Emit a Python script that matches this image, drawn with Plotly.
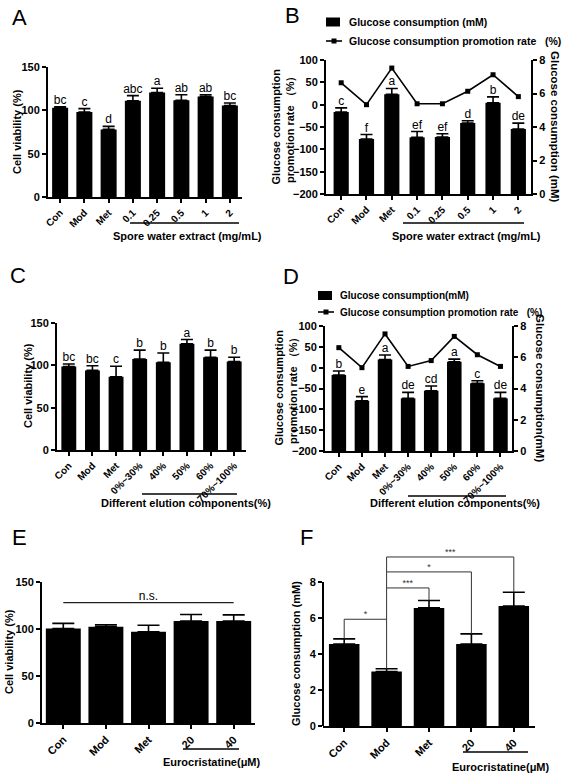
import plotly.graph_objects as go

W, H = 567, 775
FONT = "Arial, 'Liberation Sans', sans-serif"

# ---------------- data ----------------
# Panel A – cell viability, spore water extract
cats_ab = ["Con", "Mod", "Met", "0.1", "0.25", "0.5", "1", "2"]
viab_a = [103, 98, 78, 111, 120.5, 111.5, 116, 105.5]
viab_a_err = [1, 4, 3.5, 6, 5, 6.5, 2, 3]
viab_a_sig = ["bc", "c", "d", "abc", "a", "ab", "ab", "bc"]

# Panel B – glucose consumption (mM) and promotion rate (%)
gluc_b = [4.89, 3.28, 5.95, 3.38, 3.40, 4.24, 5.45, 3.88]
gluc_b_err = [0.25, 0.27, 0.35, 0.35, 0.20, 0.13, 0.35, 0.35]
gluc_b_sig = ["c", "f", "a", "ef", "ef", "d", "b", "de"]
rate_b = [49, 0, 82, 2, 2, 30, 67, 18]

# Panel C – cell viability, elution components
cats_cd = ["Con", "Mod", "Met", "0%~30%", "40%", "50%", "60%", "70%~100%"]
viab_c = [98.5, 94, 86.5, 107.5, 103.5, 125.5, 109.5, 104.5]
viab_c_err = [3, 5.5, 12.5, 10.5, 11, 5, 8.5, 5]
viab_c_sig = ["bc", "bc", "c", "b", "b", "a", "b", "b"]

# Panel D – glucose consumption (mM) and promotion rate (%)
gluc_d = [4.86, 3.22, 5.86, 3.37, 3.86, 5.71, 4.33, 3.37]
gluc_d_err = [0.26, 0.26, 0.28, 0.38, 0.30, 0.17, 0.17, 0.38]
gluc_d_sig = ["b", "e", "a", "de", "cd", "a", "c", "de"]
rate_d = [48, 0, 81, 3, 17, 75, 31, 3]

# Panel E – cell viability, eurocristatine
cats_ef = ["Con", "Mod", "Met", "20", "40"]
viab_e = [100.5, 102.5, 97, 108.5, 108.5]
viab_e_err = [5.5, 2, 7, 7, 6.5]
ns_level = 128

# Panel F – glucose consumption, eurocristatine
gluc_f = [4.55, 3.03, 6.56, 4.55, 6.67]
gluc_f_err = [0.29, 0.15, 0.41, 0.57, 0.76]
# comparisons against Mod (index 1): (other index, bracket level, label)
f_comparisons = [(0, 5.93, "*"), (2, 7.67, "***"), (3, 8.56, "*"), (4, 9.39, "***")]

# ---------------- layout helpers ----------------
boxes = {
    "A": dict(l=48, r=242, t=67, b=197, xr=[-0.5, 7.5]),
    "B": dict(l=326, r=531, t=60, b=194, xr=[-0.6, 7.5]),
    "C": dict(l=57, r=246, t=323, b=450, xr=[-0.5, 7.5]),
    "D": dict(l=325, r=512, t=326, b=451, xr=[-0.6, 7.5]),
    "E": dict(l=42, r=255, t=582, b=723, xr=[-0.5, 4.5]),
    "F": dict(l=323, r=535, t=546, b=726, xr=[-0.5, 4.5]),
}


def PX(x):
    return x / W


def PY(y):
    return 1 - y / H


def xaxis(box, cats, anchor, size=10):
    return dict(domain=[PX(box["l"]), PX(box["r"])], anchor=anchor, range=box["xr"],
                tickmode="array", tickvals=list(range(len(cats))), ticktext=cats,
                tickangle=-45, showline=True, linecolor="black", linewidth=2,
                ticks="outside", ticklen=4, tickwidth=2, tickcolor="black",
                showgrid=False, zeroline=False, automargin=False, fixedrange=True,
                tickfont=dict(family=FONT, size=size, color="black", weight="bold"))


def yaxis(box, anchor, rng, dtick, side="left", overlaying=None, showline=True, tickvals=None):
    d = dict(domain=[PY(box["b"]), PY(box["t"])], anchor=anchor, range=rng,
             side=side, showline=showline, linecolor="black", linewidth=2,
             ticks="outside", ticklen=4, tickwidth=2, tickcolor="black",
             showgrid=False, zeroline=False, automargin=False, fixedrange=True,
             tickfont=dict(family=FONT, size=11, color="black", weight="bold"))
    if tickvals is not None:
        d.update(tickmode="array", tickvals=tickvals)
    else:
        d.update(tick0=0, dtick=dtick)
    if overlaying:
        d["overlaying"] = overlaying
    return d


def err(arr, w):
    return dict(type="data", array=arr, arrayminus=[0] * len(arr), symmetric=False,
                color="black", thickness=1.6, width=w)


def tops(vals, errs):
    return [v + e for v, e in zip(vals, errs)]


LETTER_FONT = dict(family=FONT, size=12, color="#000000")

fig = go.Figure()

# ---------------- Panel A ----------------
ia = list(range(len(cats_ab)))
fig.add_trace(go.Bar(x=ia, y=viab_a, width=0.66, marker=dict(color="black", line=dict(width=0)),
                     error_y=err(viab_a_err, 6), xaxis="x", yaxis="y", showlegend=False))
fig.add_trace(go.Scatter(x=ia, y=tops(viab_a, viab_a_err), mode="text", text=viab_a_sig,
                         textposition="top center", textfont=LETTER_FONT,
                         cliponaxis=False, xaxis="x", yaxis="y", showlegend=False))

# ---------------- Panel B ----------------
fig.add_trace(go.Bar(x=ia, y=gluc_b, width=0.6, marker=dict(color="black", line=dict(width=0)),
                     error_y=err(gluc_b_err, 6), xaxis="x2", yaxis="y2", showlegend=False))
fig.add_trace(go.Scatter(x=ia, y=tops(gluc_b, gluc_b_err), mode="text", text=gluc_b_sig,
                         textposition="top center", textfont=LETTER_FONT,
                         cliponaxis=False, xaxis="x2", yaxis="y2", showlegend=False))
fig.add_trace(go.Scatter(x=ia, y=rate_b, mode="lines+markers",
                         line=dict(color="black", width=1.6),
                         marker=dict(symbol="square", size=5, color="black"),
                         xaxis="x2", yaxis="y3", showlegend=False))

# ---------------- Panel C ----------------
ic = list(range(len(cats_cd)))
fig.add_trace(go.Bar(x=ic, y=viab_c, width=0.63, marker=dict(color="black", line=dict(width=0)),
                     error_y=err(viab_c_err, 6), xaxis="x3", yaxis="y4", showlegend=False))
fig.add_trace(go.Scatter(x=ic, y=tops(viab_c, viab_c_err), mode="text", text=viab_c_sig,
                         textposition="top center", textfont=LETTER_FONT,
                         cliponaxis=False, xaxis="x3", yaxis="y4", showlegend=False))

# ---------------- Panel D ----------------
fig.add_trace(go.Bar(x=ic, y=gluc_d, width=0.63, marker=dict(color="black", line=dict(width=0)),
                     error_y=err(gluc_d_err, 6), xaxis="x4", yaxis="y5", showlegend=False))
fig.add_trace(go.Scatter(x=ic, y=tops(gluc_d, gluc_d_err), mode="text", text=gluc_d_sig,
                         textposition="top center", textfont=LETTER_FONT,
                         cliponaxis=False, xaxis="x4", yaxis="y5", showlegend=False))
fig.add_trace(go.Scatter(x=ic, y=rate_d, mode="lines+markers",
                         line=dict(color="black", width=1.6),
                         marker=dict(symbol="square", size=5, color="black"),
                         xaxis="x4", yaxis="y6", showlegend=False))

# ---------------- Panel E ----------------
ie = list(range(len(cats_ef)))
fig.add_trace(go.Bar(x=ie, y=viab_e, width=0.82, marker=dict(color="black", line=dict(width=0)),
                     error_y=err(viab_e_err, 11), xaxis="x5", yaxis="y7", showlegend=False))
fig.add_trace(go.Scatter(x=[ie[0], ie[-1]], y=[ns_level, ns_level], mode="lines",
                         line=dict(color="#222", width=1.2), xaxis="x5", yaxis="y7", showlegend=False))
fig.add_trace(go.Scatter(x=[ie[len(ie) // 2]], y=[ns_level], mode="text", text=["n.s."],
                         textposition="top center", textfont=LETTER_FONT,
                         cliponaxis=False, xaxis="x5", yaxis="y7", showlegend=False))

# ---------------- Panel F ----------------
fig.add_trace(go.Bar(x=ie, y=gluc_f, width=0.72, marker=dict(color="black", line=dict(width=0)),
                     error_y=err(gluc_f_err, 11), xaxis="x6", yaxis="y8", showlegend=False))
f_tops = tops(gluc_f, gluc_f_err)
ref = 1  # Mod
fig.add_trace(go.Scatter(x=[ref, ref], y=[f_tops[ref], max(c[1] for c in f_comparisons)], mode="lines",
                         line=dict(color="#333", width=1), xaxis="x6", yaxis="y8", showlegend=False))
for j, lvl, lab in f_comparisons:
    fig.add_trace(go.Scatter(x=[ref, j, j], y=[lvl, lvl, f_tops[j]], mode="lines",
                             line=dict(color="#333", width=1), xaxis="x6", yaxis="y8", showlegend=False))
fig.add_trace(go.Scatter(x=[(ref + c[0]) / 2 for c in f_comparisons], y=[c[1] for c in f_comparisons],
                         mode="text", text=[c[2] for c in f_comparisons], textposition="top center",
                         textfont=dict(family=FONT, size=9, color="#333"), cliponaxis=False,
                         xaxis="x6", yaxis="y8", showlegend=False))

# ---------------- axes ----------------
bA, bB, bC, bD, bE, bF = (boxes[k] for k in "ABCDEF")
layout_axes = dict(
    xaxis=xaxis(bA, cats_ab, "y"),
    yaxis=yaxis(bA, "x", [0, 150], 50),
    xaxis2=xaxis(bB, cats_ab, "y2"),
    yaxis2=yaxis(bB, "x2", [0, 8], 2, side="right"),
    yaxis3=yaxis(bB, "x2", [-200, 100], 50, side="left", overlaying="y2"),
    xaxis3=xaxis(bC, cats_cd, "y4"),
    yaxis4=yaxis(bC, "x3", [0, 150], 50),
    xaxis4=xaxis(bD, cats_cd, "y5"),
    yaxis5=yaxis(bD, "x4", [0, 8], 2, side="right"),
    yaxis6=yaxis(bD, "x4", [-200, 100], 50, side="left", overlaying="y5"),
    xaxis5=xaxis(bE, cats_ef, "y7", size=11),
    yaxis7=yaxis(bE, "x5", [0, 150], 50),
    xaxis6=xaxis(bF, cats_ef, "y8", size=11),
    yaxis8=yaxis(bF, "x6", [0, 10], 2, showline=False, tickvals=[0, 2, 4, 6, 8]),
)

# ---------------- decorations ----------------
annotations = []
shapes = []


def ann(text, x, y, size=11, bold=True, angle=0, xanchor="center", yanchor="middle"):
    annotations.append(dict(text=text, x=PX(x), y=PY(y), xref="paper", yref="paper",
                            showarrow=False, textangle=angle, xanchor=xanchor, yanchor=yanchor,
                            borderpad=0,
                            font=dict(family=FONT, size=size, color="black",
                                      weight="bold" if bold else "normal")))


def hline(x0, x1, y, w=1.5):
    shapes.append(dict(type="line", xref="paper", yref="paper", x0=PX(x0), x1=PX(x1),
                       y0=PY(y), y1=PY(y), line=dict(color="black", width=w)))


# panel letters
for lab, x, y in [("A", 11, 17), ("B", 284, 16), ("C", 9, 275), ("D", 282, 276), ("E", 11, 537), ("F", 299, 537)]:
    ann(lab, x, y, size=22, bold=False, xanchor="left")

# axis titles
ann("Cell viability (%)", 17, 132, angle=-90)
ann("Cell viability (%)", 28, 386, angle=-90)
ann("Cell viability (%)", 9, 652, angle=-90)
ann("Glucose consumption (mM)", 296, 654, angle=-90)
ann("Glucose consumption<br>promotion rate （%）", 283.5, 127, angle=-90)
ann("Glucose consumption (mM)", 555, 127, angle=90, size=11.5)
ann("Glucose consumption<br>promotion rate （%）", 285.5, 388, angle=-90)
ann("Glucose consumption(mM)", 540, 388, angle=90, size=11.5)

# group labels with underline
ann("Spore water extract (mg/mL)", 187, 236)
hline(130, 239, 223)
ann("Spore water extract (mg/mL)", 466, 236)
hline(403, 524, 223)
ann("Different elution components(%)", 186, 503)
hline(142, 237, 494)
ann("Different elution components(%)", 455, 503)
hline(408, 506, 496)
ann("Eurocristatine(μM)", 212, 762)
hline(183, 239, 749)
ann("Eurocristatine(μM)", 501, 767)
hline(463, 528, 752)

# legends (B and D)
NB = "\u00a0"
rate_label = "Glucose consumption promotion rate" + NB * 3 + "(%)"
for (rx, ry, lx, ly, tx, fs, t1) in [
    (326, 22, 326, 41, 348, 10.5, "Glucose consumption (mM)"),
    (318, 295.5, 318, 312, 339, 10, "Glucose consumption(mM)"),
]:
    shapes.append(dict(type="rect", xref="paper", yref="paper", x0=PX(rx), x1=PX(rx + 14),
                       y0=PY(ry - 4.5), y1=PY(ry + 4.5), fillcolor="black", line=dict(width=0)))
    shapes.append(dict(type="line", xref="paper", yref="paper", x0=PX(lx), x1=PX(lx + 16),
                       y0=PY(ly), y1=PY(ly), line=dict(color="black", width=1.6)))
    shapes.append(dict(type="rect", xref="paper", yref="paper", x0=PX(lx + 5.5), x1=PX(lx + 10.5),
                       y0=PY(ly - 2.5), y1=PY(ly + 2.5), fillcolor="black", line=dict(width=0)))
    ann(t1, tx, ry, size=fs, xanchor="left")
    ann(rate_label, tx, ly, size=fs, xanchor="left")

# F y-axis line (stops at 8, brackets extend above)
shapes.append(dict(type="line", xref="x6 domain", yref="y8", x0=0, x1=0, y0=0, y1=8,
                   line=dict(color="black", width=2)))

fig.update_layout(
    width=W, height=H, margin=dict(l=0, r=0, t=0, b=0),
    paper_bgcolor="white", plot_bgcolor="white", showlegend=False,
    bargap=0.3, annotations=annotations, shapes=shapes,
    font=dict(family=FONT, color="black"),
    **layout_axes,
)

fig.write_html("out.html", config={"displayModeBar": False, "staticPlot": True},
               post_script="document.body.style.margin='0';document.body.style.overflow='hidden';")
